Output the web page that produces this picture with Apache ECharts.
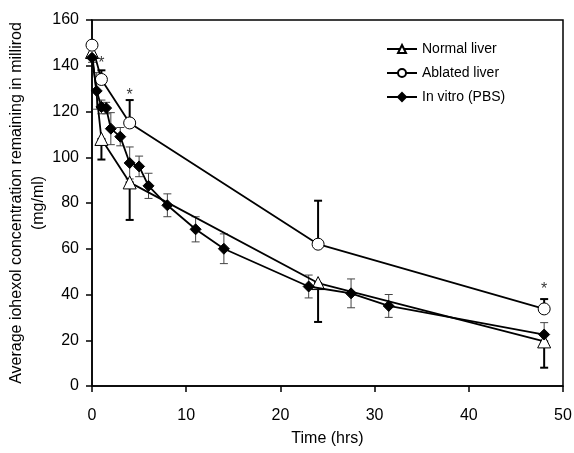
<!DOCTYPE html>
<html>
<head>
<meta charset="utf-8">
<script src="https://cdn.jsdelivr.net/npm/echarts@6/dist/echarts.min.js"></script>
<style>
html,body{margin:0;padding:0;background:#fff;}
#main{width:574px;height:453px;}
</style>
</head>
<body>
<div id="main"></div>
<script>
// data
var normalT = [0, 1, 4, 24, 48];
var normalV = [146, 108, 89, 45, 19.5];
var normalLow = [146, 99, 72.6, 28, 8];

var ablatedT = [0, 1, 4, 24, 48];
var ablatedV = [149, 134, 115, 62, 33.7];
var ablatedHigh = [149, 138, 125, 81, 38];

var vitroT = [0, 0.5, 1, 1.5, 2, 3, 4, 5, 6, 8, 11, 14, 23, 27.5, 31.5, 48];
var vitroV = [143.5, 129, 122, 121.5, 112.5, 109, 97.5, 96, 87.5, 79, 68.5, 60, 43.5, 40.5, 35, 22.5];
var vitroErr = [2, 8, 3, 2.5, 7, 4, 7, 4.5, 5.5, 5, 5.5, 6.5, 5, 6.3, 5, 5.2];

var starT = [1, 4, 48];
var starV = [141, 127, 42];

function pairs(xs, ys){
	var out = [];
	xs.forEach(function(x, i){ out.push([x, ys[i]]); });
	return out;
}

function errBar(color, width){
	return function(params, api){
		var x = api.value(0);
		var p1 = api.coord([x, api.value(1)]);
		var p2 = api.coord([x, api.value(2)]);
		var hw = 4;
		var st = {stroke: color, lineWidth: width};
		return {
			type: 'group',
			children: [
				{type: 'line', shape: {x1: p1[0], y1: p1[1], x2: p2[0], y2: p2[1]}, style: st},
				{type: 'line', shape: {x1: p1[0]-hw, y1: p1[1], x2: p1[0]+hw, y2: p1[1]}, style: st},
				{type: 'line', shape: {x1: p2[0]-hw, y1: p2[1], x2: p2[0]+hw, y2: p2[1]}, style: st}
			]
		};
	};
}

var normalBars = [], ablatedBars = [], vitroBars = [];
normalT.forEach(function(t, i){ if (i > 0) normalBars.push([t, normalLow[i], normalV[i]]); });
ablatedT.forEach(function(t, i){ if (i > 0) ablatedBars.push([t, ablatedV[i], ablatedHigh[i]]); });
vitroT.forEach(function(t, i){ vitroBars.push([t, vitroV[i] - vitroErr[i], vitroV[i] + vitroErr[i]]); });

var font = 'Liberation Sans, Arial, sans-serif';

var myChart = echarts.init(document.getElementById('main'));
var option = {
	animation: false,
	textStyle: {fontFamily: font, color: '#000'},
	grid: {left: 92, right: 11, top: 20, bottom: 67, show: true, borderColor: '#000', borderWidth: 1.5, outerBoundsMode: 'none', containLabel: false},
	legend: {
		orient: 'vertical',
		left: 381,
		top: 37,
		itemWidth: 30,
		itemHeight: 10,
		itemGap: 10,
		textStyle: {fontFamily: font, fontSize: 14, color: '#000'},
		data: ['Normal liver', 'Ablated liver', 'In vitro (PBS)']
	},
	xAxis: {
		type: 'value',
		min: 0, max: 50, interval: 10,
		name: 'Time (hrs)',
		nameLocation: 'middle',
		nameGap: 45,
		nameMoveOverlap: false,
		nameTextStyle: {fontSize: 16, color: '#000'},
		axisLine: {lineStyle: {color: '#000', width: 1.5}},
		axisTick: {show: true, inside: false, length: 6, lineStyle: {color: '#000', width: 1.5}},
		axisLabel: {fontSize: 16, color: '#000', margin: 22},
		splitLine: {show: false}
	},
	yAxis: {
		type: 'value',
		min: 0, max: 160, interval: 20,
		name: 'Average iohexol concentration remaining in millirod\n(mg/ml)',
		nameLocation: 'middle',
		nameGap: 42,
		nameMoveOverlap: false,
		nameTextStyle: {fontSize: 16, color: '#000', lineHeight: 22},
		axisLine: {lineStyle: {color: '#000', width: 1.5}},
		axisTick: {show: true, inside: false, length: 6, lineStyle: {color: '#000', width: 1.5}},
		axisLabel: {fontSize: 16, color: '#000', margin: 13},
		splitLine: {show: false}
	},
	series: [
		{
			type: 'custom', name: 'vitroErr', renderItem: errBar('#444', 1), data: vitroBars, z: 1
		},
		{
			type: 'custom', name: 'normalErr', renderItem: errBar('#000', 2), data: normalBars, z: 1
		},
		{
			type: 'custom', name: 'ablatedErr', renderItem: errBar('#000', 2), data: ablatedBars, z: 1
		},
		{
			name: 'Normal liver',
			type: 'line',
			data: pairs(normalT, normalV),
			symbol: 'triangle',
			symbolSize: 13,
			lineStyle: {color: '#000', width: 1.8},
			itemStyle: {color: '#fff', borderColor: '#000', borderWidth: 1},
			z: 3
		},
		{
			name: 'Ablated liver',
			type: 'line',
			data: pairs(ablatedT, ablatedV),
			symbol: 'circle',
			symbolSize: 12,
			lineStyle: {color: '#000', width: 1.8},
			itemStyle: {color: '#fff', borderColor: '#000', borderWidth: 1},
			z: 3
		},
		{
			name: 'In vitro (PBS)',
			type: 'line',
			data: pairs(vitroT, vitroV),
			symbol: 'diamond',
			symbolSize: 11,
			lineStyle: {color: '#000', width: 1.8},
			itemStyle: {color: '#000', borderColor: '#000', borderWidth: 1},
			z: 4
		},
		{
			name: 'stars',
			type: 'scatter',
			data: pairs(starT, starV),
			symbolSize: 0,
			label: {show: true, formatter: '*', position: 'inside', fontSize: 16, color: '#000', fontFamily: font},
			z: 5
		}
	]
};
myChart.setOption(option);
</script>
</body>
</html>
